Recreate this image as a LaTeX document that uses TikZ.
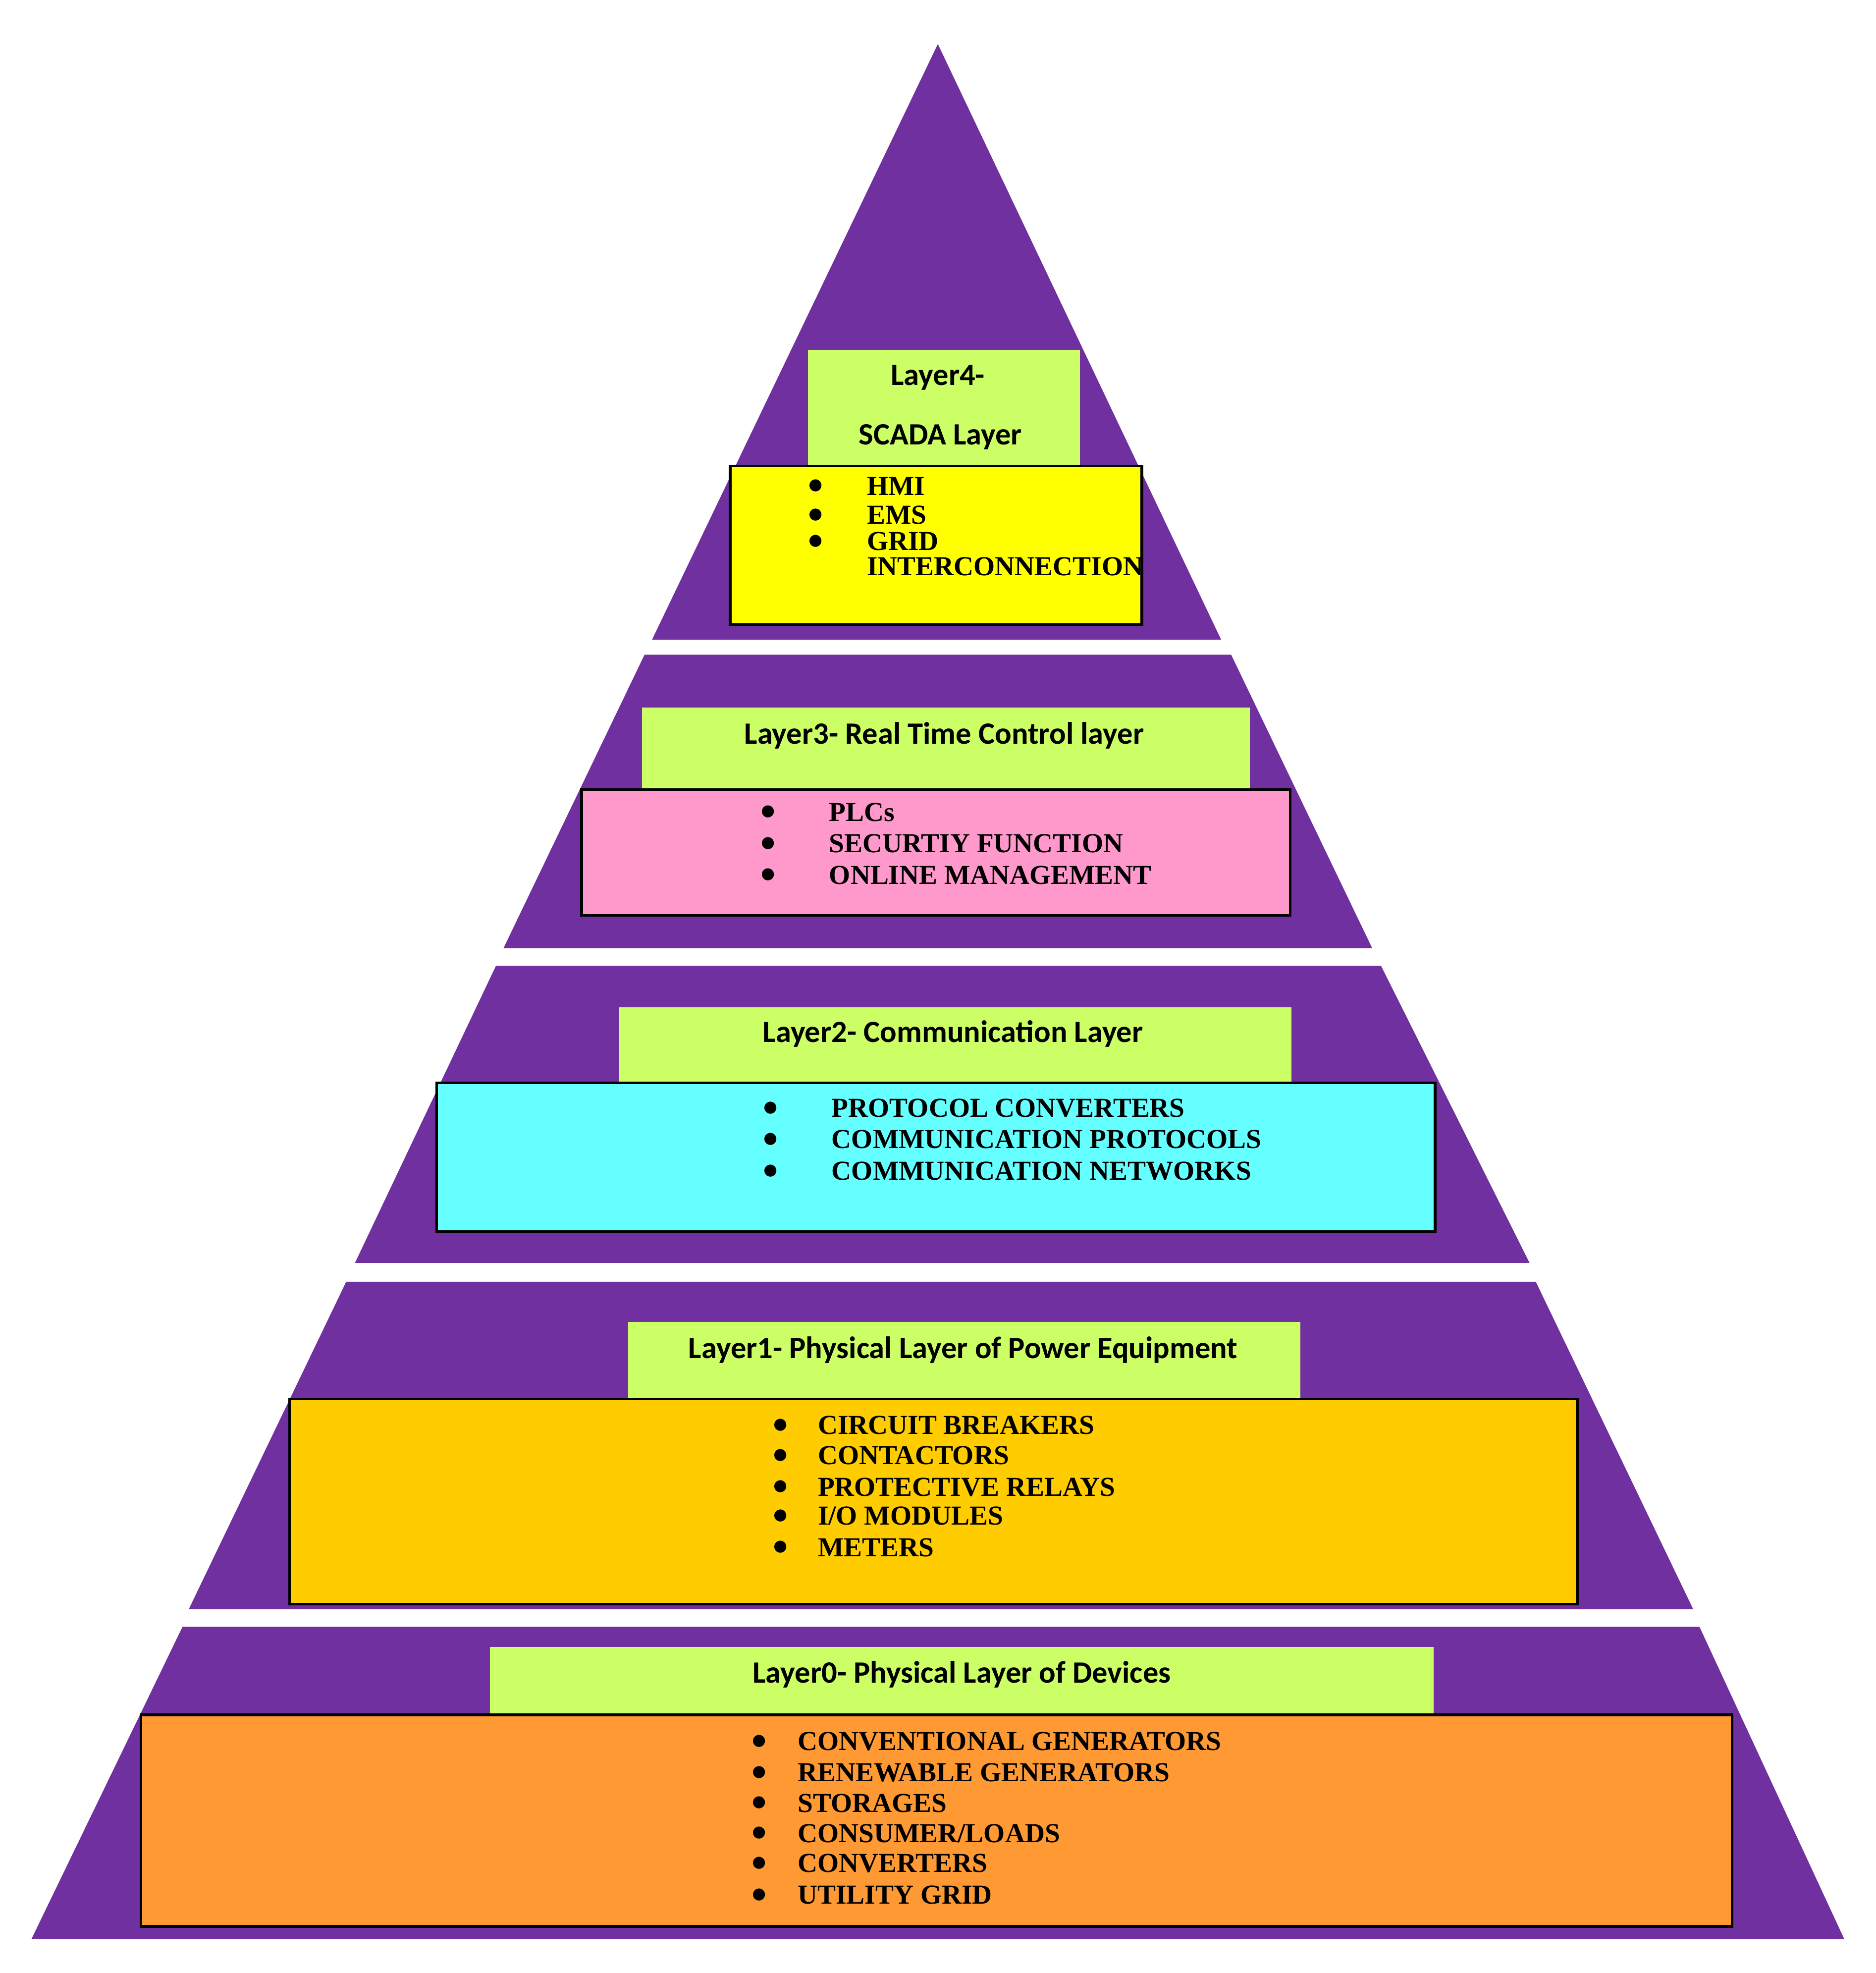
\documentclass[tikz,border=0pt]{standalone}
\usepackage{fontspec}
\setmainfont{Liberation Serif}
\newfontfamily\tsans{Carlito}
\begin{document}
\begin{tikzpicture}[x=0.01cm,y=-0.01cm,
 band/.style={fill=pyr,draw=none},
 box/.style={draw=black,line width=0.6pt},
 ttl/.style={font=\tsans\bfseries\fontsize{7}{8}\selectfont,inner sep=0},
 itm/.style={font=\bfseries\fontsize{6.2}{7}\selectfont,inner sep=0,anchor=west},
 bul/.style={font=\fontsize{6}{7}\selectfont,inner sep=0}]
\definecolor{pyr}{HTML}{7030A0}
\definecolor{lg}{HTML}{CCFF66}
\definecolor{yl}{HTML}{FFFF00}
\definecolor{pk}{HTML}{FF99CC}
\definecolor{cy}{HTML}{66FFFF}
\definecolor{gd}{HTML}{FFCC00}
\definecolor{og}{HTML}{FF9933}
\useasboundingbox (0,0) rectangle (1490,1567);
% bands
\fill[band] (745,35) -- (970,508) -- (518,508) -- cycle;
\fill[band] (512,520) -- (978,520) -- (1090,753) -- (400,753) -- cycle;
\fill[band] (394,767) -- (1097,767) -- (1215,1003) -- (282,1003) -- cycle;
\fill[band] (275,1018) -- (1220,1018) -- (1345,1278) -- (150,1278) -- cycle;
\fill[band] (145,1292) -- (1350,1292) -- (1465,1540) -- (25,1540) -- cycle;
% boxes
\fill[lg] (642,278) rectangle (858,370);
\draw[box,fill=yl] (580,370) rectangle (907,496);
\fill[lg] (510,562) rectangle (993,627);
\draw[box,fill=pk] (462,627) rectangle (1025,727);
\fill[lg] (492,800) rectangle (1026,860);
\draw[box,fill=cy] (347,860) rectangle (1140,978);
\fill[lg] (499,1050) rectangle (1033,1111);
\draw[box,fill=gd] (230,1111) rectangle (1253,1274);
\fill[lg] (389,1308) rectangle (1139,1362);
\draw[box,fill=og] (112,1362) rectangle (1376,1530);
% titles
\node[ttl] (t4a) at (745,300) {Layer4-};
\node[ttl] (t4b) at (747,347) {SCADA Layer};
\node[ttl] (t3) at (750,584) {Layer3- Real Time Control layer};
\node[ttl] (t2) at (757,821) {Layer2- Communication Layer};
\node[ttl] (t1) at (765,1072) {Layer1- Physical Layer of Power Equipment};
\node[ttl] (t0) at (764,1330) {Layer0- Physical Layer of Devices};
% items
\foreach \t/\y/\n in {HMI/386/1,EMS/409/2,GRID/430/3}{
 \node[bul] (b4\n) at (648,\y) {$\bullet$};
 \node[itm] (i4\n) at (688,\y) {\t};}
\node[itm] (i44) at (688,450) {INTERCONNECTION};
\foreach \t/\y/\n in {PLCs/645/1,SECURTIY FUNCTION/670/2,ONLINE MANAGEMENT/695/3}{
 \node[bul] (b3\n) at (610,\y) {$\bullet$};
 \node[itm] (i3\n) at (658,\y) {\t};}
\foreach \t/\y/\n in {PROTOCOL CONVERTERS/880/1,COMMUNICATION PROTOCOLS/905/2,COMMUNICATION NETWORKS/930/3}{
 \node[bul] (b2\n) at (612,\y) {$\bullet$};
 \node[itm] (i2\n) at (660,\y) {\t};}
\foreach \t/\y/\n in {CIRCUIT BREAKERS/1132/1,CONTACTORS/1156/2,PROTECTIVE RELAYS/1181/3,{I/O MODULES}/1204/4,METERS/1229/5}{
 \node[bul] (b1\n) at (620,\y) {$\bullet$};
 \node[itm] (i1\n) at (649,\y) {\t};}
\foreach \t/\y/\n in {CONVENTIONAL GENERATORS/1383/1,RENEWABLE GENERATORS/1408/2,STORAGES/1432/3,{CONSUMER/LOADS}/1456/4,CONVERTERS/1480/5,UTILITY GRID/1505/6}{
 \node[bul] (b0\n) at (603,\y) {$\bullet$};
 \node[itm] (i0\n) at (633,\y) {\t};}
\end{tikzpicture}
\end{document}
